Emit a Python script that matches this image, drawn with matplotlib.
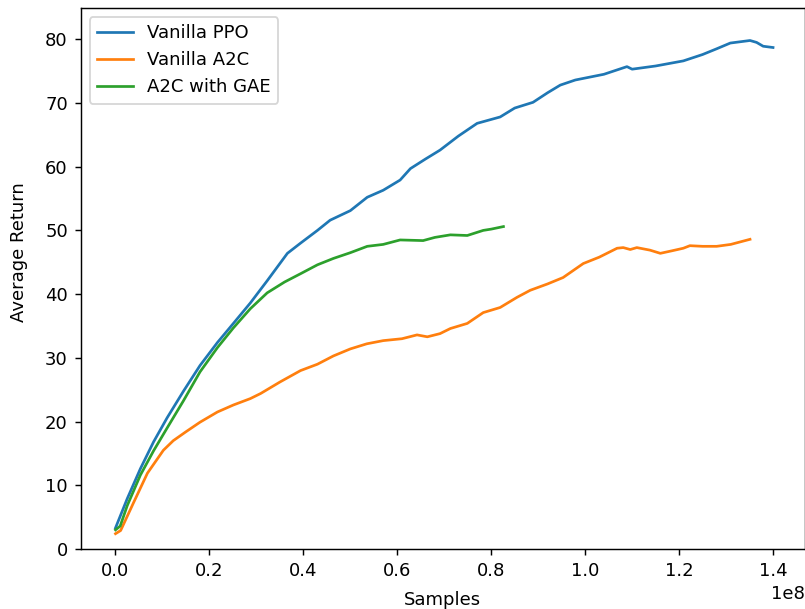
import matplotlib
matplotlib.use("agg")
import matplotlib.pyplot as plt
import numpy as np

# samples in units of 1e8
ppo_x = [0.0, 0.025, 0.053, 0.081, 0.11, 0.145, 0.18, 0.217, 0.251, 0.287,
         0.323, 0.366, 0.394, 0.43, 0.457, 0.5, 0.536, 0.57, 0.606, 0.628,
         0.66, 0.691, 0.73, 0.77, 0.819, 0.85, 0.889, 0.92, 0.947, 0.979,
         1.04, 1.089, 1.1, 1.15, 1.209, 1.25, 1.28, 1.309, 1.351, 1.365,
         1.379, 1.4]
ppo_y = [3.3, 7.9, 12.6, 16.8, 20.6, 24.8, 28.8, 32.4, 35.4, 38.6,
         42.1, 46.4, 48.0, 50.0, 51.6, 53.1, 55.2, 56.3, 57.9, 59.7,
         61.2, 62.6, 64.8, 66.8, 67.8, 69.2, 70.1, 71.6, 72.8, 73.6,
         74.5, 75.7, 75.3, 75.8, 76.6, 77.6, 78.5, 79.4, 79.8, 79.5,
         78.9, 78.7]

a2c_x = [0.0, 0.011, 0.038, 0.068, 0.102, 0.123, 0.15, 0.18, 0.217, 0.251,
         0.287, 0.309, 0.35, 0.394, 0.43, 0.464, 0.5, 0.535, 0.57, 0.61,
         0.642, 0.664, 0.691, 0.713, 0.749, 0.783, 0.819, 0.855, 0.883, 0.92,
         0.953, 0.996, 1.03, 1.068, 1.081, 1.096, 1.11, 1.138, 1.16, 1.185,
         1.209, 1.223, 1.25, 1.28, 1.31, 1.351]
a2c_y = [2.4, 2.9, 7.2, 11.9, 15.5, 17.0, 18.4, 19.9, 21.5, 22.6,
         23.6, 24.4, 26.2, 28.0, 29.0, 30.3, 31.4, 32.2, 32.7, 33.0,
         33.6, 33.3, 33.8, 34.6, 35.4, 37.1, 37.9, 39.5, 40.6, 41.6,
         42.6, 44.8, 45.8, 47.2, 47.3, 47.0, 47.3, 46.9, 46.4, 46.8,
         47.2, 47.6, 47.5, 47.5, 47.8, 48.6]

gae_x = [0.0, 0.01, 0.025, 0.053, 0.081, 0.11, 0.145, 0.18, 0.217, 0.251,
         0.287, 0.323, 0.36, 0.394, 0.43, 0.464, 0.5, 0.536, 0.57, 0.606,
         0.655, 0.68, 0.713, 0.749, 0.783, 0.8, 0.826]
gae_y = [3.0, 3.6, 6.8, 11.6, 15.4, 19.0, 23.3, 27.8, 31.6, 34.7,
         37.7, 40.2, 41.9, 43.2, 44.6, 45.6, 46.5, 47.5, 47.8, 48.5,
         48.4, 48.9, 49.3, 49.2, 50.0, 50.2, 50.6]

labels = ['Vanilla PPO', 'Vanilla A2C', 'A2C with GAE']

fig = plt.figure(figsize=(805 / 130, 609 / 130), dpi=130)
ax = fig.add_axes([80.5 / 805, 60 / 609, 724 / 805, 541 / 609])

ax.plot(np.array(ppo_x) * 1e8, ppo_y, label=labels[0])
ax.plot(np.array(a2c_x) * 1e8, a2c_y, label=labels[1])
ax.plot(np.array(gae_x) * 1e8, gae_y, label=labels[2])

ax.set_xlim(-0.0745e8, 1.467e8)
ax.set_ylim(0, 84.9)
ax.set_xlabel('Samples', labelpad=6.5)
ax.set_ylabel('Average Return')
ax.yaxis.set_label_coords(-0.0725, 0.549)
ax.legend(loc='upper left')

fig.savefig('out.png', dpi=130)
